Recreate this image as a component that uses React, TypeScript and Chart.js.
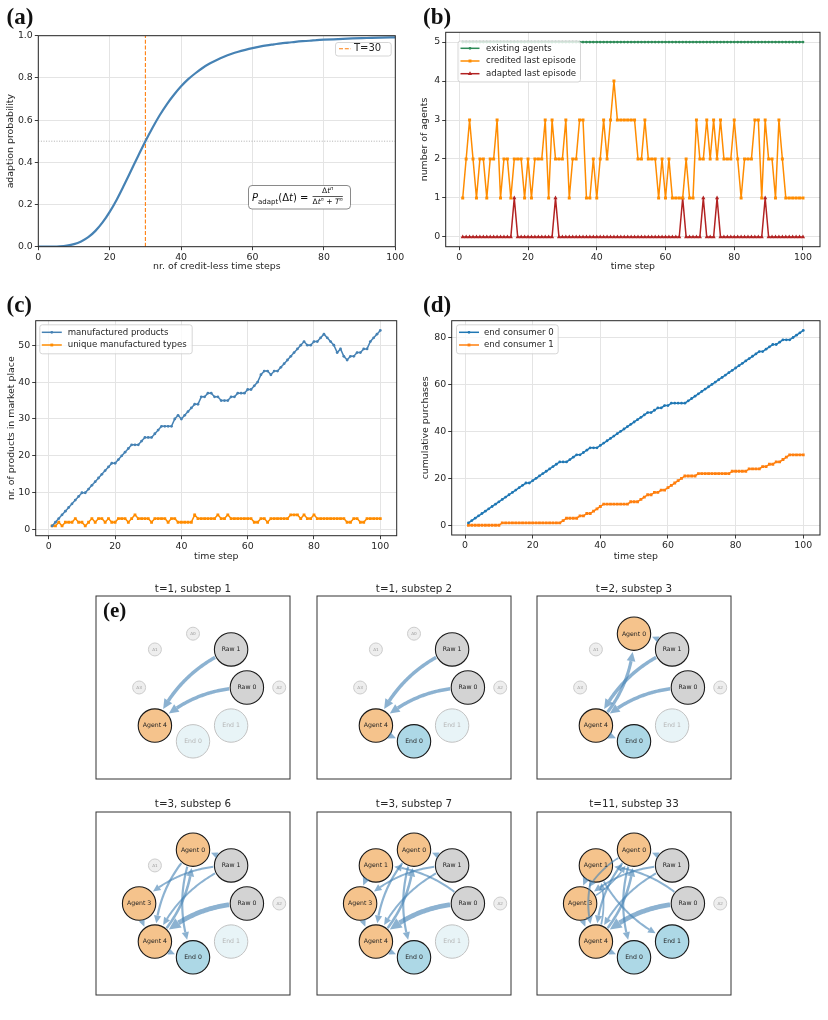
import React, { useEffect, useRef } from 'react';
import { Chart, registerables } from 'chart.js';
Chart.register(...registerables);

const SANS = "'DejaVu Sans', sans-serif";
const SERIF = "'Liberation Serif', 'DejaVu Serif', serif";

// ---------- (a) adaption probability ----------
const adaptDt = [0, 2, 4, 6, 8, 10, 12, 14, 16, 18, 20, 22, 24, 26, 28, 30, 32, 34, 36, 38, 40, 42, 44, 46, 48, 50, 52, 54, 56, 58, 60, 62, 64, 66, 68, 70, 72, 74, 76, 78, 80, 84, 88, 92, 96, 100];
const adaptProb = [0, 0, 0.0003, 0.0016, 0.005, 0.012, 0.025, 0.045, 0.075, 0.115, 0.165, 0.224, 0.291, 0.361, 0.431, 0.5, 0.564, 0.623, 0.675, 0.72, 0.76, 0.794, 0.822, 0.847, 0.868, 0.885, 0.9, 0.913, 0.924, 0.933, 0.941, 0.948, 0.954, 0.959, 0.964, 0.967, 0.971, 0.974, 0.976, 0.979, 0.981, 0.984, 0.987, 0.989, 0.991, 0.992];
const thresholdT = 30;
const halfProb = 0.5;
const aXTicks = [0, 20, 40, 60, 80, 100];
const aYTicks = [0, 0.2, 0.4, 0.6, 0.8, 1.0];

// ---------- shared time axis ----------
const steps = Array.from({ length: 100 }, (_, i) => i + 1);
const timeTicks = [0, 20, 40, 60, 80, 100];

// ---------- (b) number of agents ----------
const existingAgents = [5, 5, 5, 5, 5, 5, 5, 5, 5, 5, 5, 5, 5, 5, 5, 5, 5, 5, 5, 5, 5, 5, 5, 5, 5, 5, 5, 5, 5, 5, 5, 5, 5, 5, 5, 5, 5, 5, 5, 5, 5, 5, 5, 5, 5, 5, 5, 5, 5, 5, 5, 5, 5, 5, 5, 5, 5, 5, 5, 5, 5, 5, 5, 5, 5, 5, 5, 5, 5, 5, 5, 5, 5, 5, 5, 5, 5, 5, 5, 5, 5, 5, 5, 5, 5, 5, 5, 5, 5, 5, 5, 5, 5, 5, 5, 5, 5, 5, 5, 5];
const creditedLastEpisode = [
  1, 2, 3, 2, 1, 2, 2, 1, 2, 2,
  3, 1, 2, 2, 1, 2, 2, 2, 1, 2,
  1, 2, 2, 2, 3, 1, 3, 2, 2, 2,
  3, 1, 2, 2, 3, 3, 1, 1, 2, 1,
  2, 3, 2, 3, 4, 3, 3, 3, 3, 3,
  3, 2, 2, 3, 2, 2, 2, 1, 2, 1,
  2, 1, 1, 1, 1, 2, 1, 1, 3, 2,
  2, 3, 2, 3, 2, 3, 2, 2, 2, 3,
  2, 1, 2, 2, 2, 3, 3, 1, 3, 2,
  2, 1, 3, 2, 1, 1, 1, 1, 1, 1];
const adaptedLastEpisode = [
  0, 0, 0, 0, 0, 0, 0, 0, 0, 0,
  0, 0, 0, 0, 0, 1, 0, 0, 0, 0,
  0, 0, 0, 0, 0, 0, 0, 1, 0, 0,
  0, 0, 0, 0, 0, 0, 0, 0, 0, 0,
  0, 0, 0, 0, 0, 0, 0, 0, 0, 0,
  0, 0, 0, 0, 0, 0, 0, 0, 0, 0,
  0, 0, 0, 0, 1, 0, 0, 0, 0, 0,
  1, 0, 0, 0, 1, 0, 0, 0, 0, 0,
  0, 0, 0, 0, 0, 0, 0, 0, 1, 0,
  0, 0, 0, 0, 0, 0, 0, 0, 0, 0];
const bYTicks = [0, 1, 2, 3, 4, 5];

// ---------- (c) products in market place ----------
const manufacturedProducts = [
  1, 2, 3, 4, 5, 6, 7, 8, 9, 10,
  10, 11, 12, 13, 14, 15, 16, 17, 18, 18,
  19, 20, 21, 22, 23, 23, 23, 24, 25, 25,
  25, 26, 27, 28, 28, 28, 28, 30, 31, 30,
  31, 32, 33, 34, 34, 36, 36, 37, 37, 36,
  36, 35, 35, 35, 36, 36, 37, 37, 37, 38,
  38, 39, 40, 42, 43, 43, 42, 43, 43, 44,
  45, 46, 47, 48, 49, 50, 51, 50, 50, 51,
  51, 52, 53, 52, 51, 50, 48, 49, 47, 46,
  47, 47, 48, 48, 49, 49, 51, 52, 53, 54];
const uniqueTypes = [
  1, 1, 2, 1, 2, 2, 2, 3, 2, 2,
  1, 2, 3, 2, 3, 3, 2, 3, 2, 2,
  3, 3, 3, 2, 3, 4, 3, 3, 3, 3,
  2, 3, 3, 3, 3, 2, 3, 3, 2, 2,
  2, 2, 2, 4, 3, 3, 3, 3, 3, 3,
  4, 3, 3, 4, 3, 3, 3, 3, 3, 3,
  3, 2, 2, 3, 3, 2, 3, 3, 3, 3,
  3, 3, 4, 4, 4, 3, 4, 3, 3, 4,
  3, 3, 3, 3, 3, 3, 3, 3, 3, 2,
  2, 3, 3, 2, 2, 3, 3, 3, 3, 3];
const cYTicks = [0, 10, 20, 30, 40, 50];

// ---------- (d) cumulative purchases ----------
const endConsumer0 = [
  1, 2, 3, 4, 5, 6, 7, 8, 9, 10,
  11, 12, 13, 14, 15, 16, 17, 18, 18, 19,
  20, 21, 22, 23, 24, 25, 26, 27, 27, 27,
  28, 29, 30, 30, 31, 32, 33, 33, 33, 34,
  35, 36, 37, 38, 39, 40, 41, 42, 43, 44,
  45, 46, 47, 48, 48, 49, 50, 50, 51, 51,
  52, 52, 52, 52, 52, 53, 54, 55, 56, 57,
  58, 59, 60, 61, 62, 63, 64, 65, 66, 67,
  68, 69, 70, 71, 72, 73, 74, 74, 75, 76,
  77, 77, 78, 79, 79, 79, 80, 81, 82, 83];
const endConsumer1 = [
  0, 0, 0, 0, 0, 0, 0, 0, 0, 0,
  1, 1, 1, 1, 1, 1, 1, 1, 1, 1,
  1, 1, 1, 1, 1, 1, 1, 1, 2, 3,
  3, 3, 3, 4, 4, 5, 5, 6, 7, 8,
  9, 9, 9, 9, 9, 9, 9, 9, 10, 10,
  10, 11, 12, 13, 13, 14, 14, 15, 15, 16,
  17, 18, 19, 20, 21, 21, 21, 21, 22, 22,
  22, 22, 22, 22, 22, 22, 22, 22, 23, 23,
  23, 23, 23, 24, 24, 24, 24, 25, 25, 26,
  26, 27, 27, 28, 29, 30, 30, 30, 30, 30];
const dYTicks = [0, 20, 40, 60, 80];

// ---------- (e) network snapshots ----------
const netTitles = ['t=1, substep 1', 't=1, substep 2', 't=2, substep 3', 't=3, substep 6', 't=3, substep 7', 't=11, substep 33'];
const netNodes = ['Agent 0', 'Agent 1', 'Agent 2', 'Agent 3', 'Agent 4', 'Raw 0', 'Raw 1', 'End 0', 'End 1'];
const netActiveAgents = [[4], [4], [0, 4], [0, 3, 4], [0, 1, 3, 4], [0, 1, 3, 4]];
const netActiveEnds = [[], [0], [0], [0], [0], [0, 1]];
const netEdges: [string, string, number][][] = [
  [['Raw 1', 'Agent 4', 3.5], ['Raw 0', 'Agent 4', 3.5]],
  [['Raw 1', 'Agent 4', 3.5], ['Raw 0', 'Agent 4', 3.5], ['Agent 4', 'End 0', 2]],
  [['Raw 1', 'Agent 4', 3.5], ['Raw 0', 'Agent 4', 3.5], ['Agent 4', 'Agent 0', 3.2], ['Agent 4', 'End 0', 2], ['Raw 1', 'Agent 0', 1.5]],
  [['Raw 1', 'Agent 3', 2], ['Raw 1', 'Agent 4', 2], ['Raw 0', 'Agent 4', 4.8], ['Agent 0', 'End 0', 2.2], ['Agent 0', 'Agent 4', 2.2], ['Agent 4', 'Agent 0', 2.6], ['Agent 3', 'Agent 4', 1.5], ['Agent 4', 'End 0', 1.5], ['Raw 1', 'Agent 0', 1.5]],
  [['Raw 1', 'Agent 3', 2], ['Raw 1', 'Agent 4', 2], ['Raw 0', 'Agent 4', 4.8], ['Agent 0', 'End 0', 2.2], ['Agent 0', 'Agent 4', 2.2], ['Agent 4', 'Agent 0', 2.6], ['Agent 3', 'Agent 4', 1.5], ['Agent 4', 'End 0', 1.5], ['Raw 1', 'Agent 0', 1.5], ['Raw 0', 'Agent 1', 2], ['Agent 1', 'Agent 3', 2.2]],
  [['Raw 1', 'Agent 3', 2], ['Raw 1', 'Agent 4', 2], ['Raw 0', 'Agent 4', 4.8], ['Agent 0', 'End 0', 2.2], ['Agent 0', 'Agent 4', 2.2], ['Agent 4', 'Agent 0', 2.6], ['Agent 3', 'Agent 4', 1.5], ['Agent 4', 'End 0', 1.5], ['Raw 1', 'Agent 0', 1.5], ['Raw 0', 'Agent 1', 2], ['Agent 1', 'Agent 3', 2.2], ['Agent 1', 'End 1', 2], ['Agent 1', 'Agent 4', 2], ['Agent 4', 'Agent 1', 1.8], ['Agent 0', 'Agent 3', 1.8], ['Agent 3', 'Agent 0', 1.5]],
];

// layout (positions) for the network graph — circular layout
const nodeSlots: Record<string, [number, number]> = {
  'Agent 0': [0, 1], 'Raw 1': [0.707, 0.707], 'Raw 0': [1, 0], 'End 1': [0.707, -0.707],
  'End 0': [0, -1], 'Agent 4': [-0.707, -0.707], 'Agent 3': [-1, 0], 'Agent 1': [-0.707, 0.707], 'Agent 2': [1.6, 0],
};

// ---------- helpers ----------
type Leg = { x: number; y: number; w: number; h: number; row0: number; gap: number; sx: number; sl: number; tx: number; size: number; items: number[] };

function drawMarker(ctx: CanvasRenderingContext2D, style: string, x: number, y: number, r: number, color: string) {
  ctx.fillStyle = color;
  ctx.beginPath();
  if (style === 'rect') { const s = r * Math.SQRT1_2; ctx.rect(x - s, y - s, 2 * s, 2 * s); }
  else if (style === 'triangle') { ctx.moveTo(x, y - r); ctx.lineTo(x + r * 0.866, y + r * 0.5); ctx.lineTo(x - r * 0.866, y + r * 0.5); ctx.closePath(); }
  else ctx.arc(x, y, r, 0, Math.PI * 2);
  ctx.fill();
}

function drawLegend(chart: any, L: Leg) {
  const ctx: CanvasRenderingContext2D = chart.ctx;
  ctx.save();
  ctx.beginPath();
  (ctx as any).roundRect(L.x + 0.5, L.y + 0.5, L.w, L.h, 2.5);
  ctx.fillStyle = 'rgba(255,255,255,0.8)'; ctx.fill();
  ctx.strokeStyle = '#cccccc'; ctx.lineWidth = 0.8; ctx.stroke();
  ctx.font = `${L.size}px ${SANS}`; ctx.textBaseline = 'middle'; ctx.textAlign = 'left';
  L.items.forEach((di, i) => {
    const ds: any = chart.data.datasets[di];
    const yy = L.y + L.row0 + i * L.gap;
    ctx.strokeStyle = ds.borderColor; ctx.lineWidth = ds.borderWidth; ctx.setLineDash(ds.borderDash || []);
    ctx.beginPath(); ctx.moveTo(L.x + L.sx, yy); ctx.lineTo(L.x + L.sx + L.sl, yy); ctx.stroke();
    ctx.setLineDash([]);
    if (ds.pointRadius > 0) drawMarker(ctx, ds.pointStyle, L.x + L.sx + L.sl / 2, yy, ds.pointRadius, ds.borderColor);
    ctx.fillStyle = '#262626'; ctx.fillText(ds.label, L.x + L.tx, yy);
  });
  ctx.restore();
}

function makeMplPlugin(legend: Leg, extra?: (ctx: CanvasRenderingContext2D) => void) {
  return {
    id: 'mplFrame',
    afterDatasetsDraw(chart: any) {
      const { ctx, chartArea: a } = chart;
      ctx.save();
      ctx.strokeStyle = '#262626'; ctx.lineWidth = 1; ctx.setLineDash([]);
      ctx.strokeRect(a.left, a.top, a.right - a.left, a.bottom - a.top);
      ctx.restore();
      drawLegend(chart, legend);
      if (extra) { ctx.save(); extra(ctx); ctx.restore(); }
    },
  };
}

type PanelSpec = {
  datasets: any[]; xMin: number; xMax: number; xTicks: number[]; xTitle: string;
  yMin: number; yMax: number; yTicks: number[]; yTitle: string; yFmt: (v: number) => string;
  pad: { left: number; top: number; right: number; bottom: number }; yWidth: number; xHeight: number;
  xTitlePad: number; yTitlePad: number; legend: Leg; extra?: (ctx: CanvasRenderingContext2D) => void;
};

const TICK_SIZE = 9.4;
function panelConfig(p: PanelSpec): any {
  const tickFont = { family: SANS, size: TICK_SIZE };
  const grid = { color: '#e4e4e4', lineWidth: 1, tickLength: 3.5, tickColor: '#262626', tickWidth: 0.9, drawTicks: true };
  return {
    type: 'line',
    data: { datasets: p.datasets },
    options: {
      responsive: false, animation: false, devicePixelRatio: 1, events: [],
      layout: { padding: p.pad, autoPadding: false },
      plugins: { legend: { display: false }, tooltip: { enabled: false } },
      scales: {
        x: {
          type: 'linear', min: p.xMin, max: p.xMax,
          afterBuildTicks: (s: any) => { s.ticks = p.xTicks.map((v) => ({ value: v })); },
          afterFit: (s: any) => { s.height = p.xHeight; },
          ticks: { font: tickFont, color: '#262626', padding: 1.5, maxRotation: 0, autoSkip: false, callback: (v: any) => String(v) },
          grid, border: { display: false },
          title: { display: true, text: p.xTitle, font: tickFont, color: '#262626', padding: { top: 0, bottom: p.xTitlePad } },
        },
        y: {
          type: 'linear', min: p.yMin, max: p.yMax,
          afterBuildTicks: (s: any) => { s.ticks = p.yTicks.map((v) => ({ value: v })); },
          afterFit: (s: any) => { s.width = p.yWidth; },
          ticks: { font: tickFont, color: '#262626', padding: 2, autoSkip: false, callback: (v: any) => p.yFmt(Number(v)) },
          grid, border: { display: false },
          title: { display: true, text: p.yTitle, font: tickFont, color: '#262626', padding: { top: p.yTitlePad, bottom: 0 } },
        },
      },
    },
    plugins: [makeMplPlugin(p.legend, p.extra)],
  };
}

function series(label: string, ys: number[], color: string, pointStyle: string, pointRadius: number) {
  return {
    label, data: steps.map((t, i) => ({ x: t, y: ys[i] })), borderColor: color, backgroundColor: color,
    borderWidth: 1.5, pointStyle, pointRadius, pointBorderWidth: 0, pointBackgroundColor: color, pointHoverRadius: pointRadius,
  };
}

function drawFormula(ctx: CanvasRenderingContext2D) {
  ctx.beginPath();
  (ctx as any).roundRect(248.5, 185.5, 102, 23.5, 3.5);
  ctx.fillStyle = '#ffffff'; ctx.fill();
  ctx.strokeStyle = '#8a8a8a'; ctx.lineWidth = 1; ctx.stroke();
  ctx.fillStyle = '#111'; ctx.textBaseline = 'alphabetic'; ctx.textAlign = 'left';
  const base = 201;
  let x = 252;
  const setF = (size: number, it: boolean) => { ctx.font = `${it ? 'italic ' : ''}${size}px ${SANS}`; };
  const run = (t: string, size: number, it: boolean, dy = 0) => { setF(size, it); ctx.fillText(t, x, base + dy); x += ctx.measureText(t).width; };
  run('P', 10, true);
  run('adapt', 7, false, 2.5);
  run('(Δ', 10, false); run('t', 10, true); run(')', 10, false); run(' = ', 10, false);
  type Part = [string, number, boolean, number];
  const num: Part[] = [['Δ', 7.5, false, 0], ['t', 7.5, true, 0], ['n', 5.2, true, -3]];
  const den: Part[] = [['Δ', 7.5, false, 0], ['t', 7.5, true, 0], ['n', 5.2, true, -3], [' + ', 7.5, false, 0], ['T', 7.5, true, 0], ['n', 5.2, true, -3]];
  const width = (parts: Part[]) => parts.reduce((w, [t, s, it]) => { setF(s, it); return w + ctx.measureText(t).width; }, 0);
  const wn = width(num), wd = width(den);
  const fx = x + 1;
  const cx = fx + wd / 2;
  const drawParts = (parts: Part[], x0: number, b: number) => {
    let xx = x0;
    parts.forEach(([t, s, it, dy]) => { setF(s, it); ctx.fillText(t, xx, b + dy); xx += ctx.measureText(t).width; });
  };
  drawParts(num, cx - wn / 2, 193.3);
  ctx.fillRect(fx, 196.2, wd, 0.7);
  drawParts(den, fx, 204.3);
}

// ---------- chart configs ----------
function configA() {
  return panelConfig({
    datasets: [
      { label: 'adaption', data: adaptDt.map((x, i) => ({ x, y: adaptProb[i] })), borderColor: '#4682b4', borderWidth: 2.2, pointRadius: 0, cubicInterpolationMode: 'monotone' },
      { label: 'T=30', data: [{ x: thresholdT, y: 0 }, { x: thresholdT, y: 1 }], borderColor: '#ff7f0e', borderWidth: 1.1, borderDash: [4, 1.8], pointRadius: 0 },
      { label: 'half', data: [{ x: 0, y: halfProb }, { x: 100, y: halfProb }], borderColor: '#9a9a9a', borderWidth: 0.8, borderDash: [1, 1.6], pointRadius: 0 },
    ],
    xMin: 0, xMax: 100, xTicks: aXTicks, xTitle: 'nr. of credit-less time steps',
    yMin: 0, yMax: 1, yTicks: aYTicks, yTitle: 'adaption probability', yFmt: (v) => v.toFixed(1),
    pad: { left: 0, top: 35.7, right: 14.7, bottom: 0 }, yWidth: 38.3, xHeight: 38.3, xTitlePad: 12.5, yTitlePad: 5,
    legend: { x: 335, y: 42, w: 55.7, h: 13.5, row0: 6.8, gap: 12, sx: 4, sl: 12, tx: 19, size: 10, items: [1] },
    extra: drawFormula,
  });
}

function configB() {
  return panelConfig({
    datasets: [
      series('existing agents', existingAgents, '#2e8b57', 'circle', 1.4),
      series('credited last episode', creditedLastEpisode, '#ff8c00', 'rect', 2.1),
      series('adapted last episode', adaptedLastEpisode, '#b22222', 'triangle', 2.4),
    ],
    xMin: -3.95, xMax: 104.95, xTicks: timeTicks, xTitle: 'time step',
    yMin: -0.25, yMax: 5.25, yTicks: bYTicks, yTitle: 'number of agents', yFmt: (v) => String(v),
    pad: { left: 0, top: 32.3, right: 8, bottom: 0 }, yWidth: 35.7, xHeight: 38.3, xTitlePad: 12.5, yTitlePad: 9.4,
    legend: { x: 47.5, y: 40.5, w: 122.5, h: 41, row0: 7.8, gap: 12.7, sx: 3, sl: 19, tx: 28.5, size: 8.6, items: [0, 1, 2] },
  });
}

function configC() {
  return panelConfig({
    datasets: [
      series('manufactured products', manufacturedProducts, '#4682b4', 'circle', 1.4),
      series('unique manufactured types', uniqueTypes, '#ff8c00', 'rect', 2),
    ],
    xMin: -3.95, xMax: 104.95, xTicks: timeTicks, xTitle: 'time step',
    yMin: -1.65, yMax: 56.65, yTicks: cYTicks, yTitle: 'nr. of products in market place', yFmt: (v) => String(v),
    pad: { left: 0, top: 35.7, right: 13.3, bottom: 0 }, yWidth: 35.7, xHeight: 39.3, xTitlePad: 12.5, yTitlePad: 6,
    legend: { x: 39.3, y: 39.3, w: 152.4, h: 29, row0: 8, gap: 12.7, sx: 2.5, sl: 20, tx: 28.4, size: 8.6, items: [0, 1] },
  });
}

function configD() {
  return panelConfig({
    datasets: [
      series('end consumer 0', endConsumer0, '#1f77b4', 'circle', 1.4),
      series('end consumer 1', endConsumer1, '#ff7f0e', 'rect', 2),
    ],
    xMin: -3.95, xMax: 104.95, xTicks: timeTicks, xTitle: 'time step',
    yMin: -4.15, yMax: 87.15, yTicks: dYTicks, yTitle: 'cumulative purchases', yFmt: (v) => String(v),
    pad: { left: 0, top: 35.7, right: 8, bottom: 0 }, yWidth: 41.7, xHeight: 40, xTitlePad: 12.5, yTitlePad: 10.4,
    legend: { x: 46, y: 39.3, w: 101.7, h: 29, row0: 8, gap: 12.7, sx: 3, sl: 20, tx: 28, size: 8.6, items: [0, 1] },
  });
}

const EDGE_COLOR = 'rgba(70,130,180,0.62)';
const BIG_R = 16.7;
const SMALL_R = 6.5;

function drawArrow(ctx: CanvasRenderingContext2D, p: { x: number; y: number }, q: { x: number; y: number }, rs: number, rt: number, w: number, rad: number) {
  const dx = q.x - p.x, dy = q.y - p.y;
  const c = { x: (p.x + q.x) / 2 - rad * dy, y: (p.y + q.y) / 2 + rad * dx };
  const B = (t: number) => { const u = 1 - t; return { x: u * u * p.x + 2 * u * t * c.x + t * t * q.x, y: u * u * p.y + 2 * u * t * c.y + t * t * q.y }; };
  const N = 400;
  let t0 = 0, t1 = 1;
  for (let i = 0; i <= N; i++) { const t = i / N, b = B(t); if (Math.hypot(b.x - p.x, b.y - p.y) >= rs) { t0 = t; break; } }
  for (let i = N; i >= 0; i--) { const t = i / N, b = B(t); if (Math.hypot(b.x - q.x, b.y - q.y) >= rt) { t1 = t; break; } }
  if (t1 <= t0) return;
  const tip = B(t1);
  const hl = 4.5 + 1.5 * w, hw = 2 + 0.75 * w;
  let tb = t0;
  for (let i = N; i >= 0; i--) { const t = t0 + (t1 - t0) * i / N, b = B(t); if (Math.hypot(b.x - tip.x, b.y - tip.y) >= hl) { tb = t; break; } }
  let base = B(tb);
  let len = Math.hypot(tip.x - base.x, tip.y - base.y);
  if (len < 0.5) { const d = { x: tip.x - B(t0).x, y: tip.y - B(t0).y }; len = Math.hypot(d.x, d.y) || 1; base = { x: tip.x - d.x / len * hl, y: tip.y - d.y / len * hl }; len = hl; }
  const ux = (tip.x - base.x) / len, uy = (tip.y - base.y) / len;
  const bx = tip.x - ux * hl, by = tip.y - uy * hl;
  ctx.strokeStyle = EDGE_COLOR; ctx.fillStyle = EDGE_COLOR; ctx.lineWidth = w; ctx.lineCap = 'butt';
  if (tb > t0) {
    ctx.beginPath();
    for (let i = 0; i <= 40; i++) { const t = t0 + (tb - t0) * i / 40, b = B(t); if (i === 0) ctx.moveTo(b.x, b.y); else ctx.lineTo(b.x, b.y); }
    ctx.stroke();
  }
  ctx.beginPath();
  ctx.moveTo(tip.x, tip.y);
  ctx.lineTo(bx - uy * hw, by + ux * hw);
  ctx.lineTo(bx + uy * hw, by - ux * hw);
  ctx.closePath(); ctx.fill();
}

function netConfig(k: number): any {
  const agents = netActiveAgents[k], ends = netActiveEnds[k];
  const nodes = netNodes.map((name) => {
    const [kind, idx] = name.split(' ');
    let state = 'on';
    if (kind === 'Agent' && !agents.includes(Number(idx))) state = 'small';
    if (kind === 'End' && !ends.includes(Number(idx))) state = 'faded';
    const label = state === 'small' ? 'A' + idx : name;
    let fill = '#d3d3d3', border = '#1a1a1a';
    if (kind === 'Agent') fill = '#f5c38c';
    if (kind === 'End') fill = '#add8e6';
    if (state === 'faded') { fill = '#e8f4f7'; border = '#c2c2c2'; }
    if (state === 'small') { fill = '#eeeeee'; border = '#cccccc'; }
    return { name, kind, state, label, fill, border, r: state === 'small' ? SMALL_R : BIG_R };
  });
  const plugin = {
    id: 'netDecor',
    afterDatasetsDraw(chart: any) {
      const { ctx, chartArea: a, scales } = chart;
      const pos = (n: string) => ({ x: scales.x.getPixelForValue(nodeSlots[n][0]), y: scales.y.getPixelForValue(nodeSlots[n][1]) });
      const rOf = (n: string) => nodes.find((d) => d.name === n)!.r;
      ctx.save();
      ctx.strokeStyle = '#333'; ctx.lineWidth = 1;
      ctx.strokeRect(a.left, a.top, a.right - a.left, a.bottom - a.top);
      ctx.fillStyle = '#262626'; ctx.font = `10.3px ${SANS}`; ctx.textAlign = 'center'; ctx.textBaseline = 'middle';
      ctx.fillText(netTitles[k], (a.left + a.right) / 2, a.top - (k < 3 ? 6.5 : 7.5));
      netEdges[k].forEach(([f, t, w]) => drawArrow(ctx, pos(f), pos(t), rOf(f) + 1, rOf(t) + 1.5, w, 0.2));
      nodes.forEach((n) => {
        const p = pos(n.name);
        ctx.fillStyle = n.state === 'on' ? '#222' : (n.state === 'faded' ? '#b5b5b5' : '#9a9a9a');
        ctx.font = `${n.state === 'small' ? 4.2 : 6.2}px ${SANS}`;
        ctx.textAlign = 'center'; ctx.textBaseline = 'middle';
        ctx.fillText(n.label, p.x, p.y + 0.3);
      });
      ctx.restore();
    },
  };
  return {
    type: 'scatter',
    data: {
      datasets: [{
        data: nodes.map((n) => ({ x: nodeSlots[n.name][0], y: nodeSlots[n.name][1] })),
        pointRadius: nodes.map((n) => n.r), pointHoverRadius: nodes.map((n) => n.r),
        pointBackgroundColor: nodes.map((n) => n.fill), pointBorderColor: nodes.map((n) => n.border),
        pointBorderWidth: nodes.map((n) => (n.state === 'on' ? 1.1 : 1)),
        clip: false,
      }],
    },
    options: {
      responsive: false, animation: false, devicePixelRatio: 1, events: [],
      layout: { padding: { left: 6, right: 6, top: 20, bottom: 6 }, autoPadding: false },
      plugins: { legend: { display: false }, tooltip: { enabled: false } },
      scales: { x: { display: false, min: -1.8, max: 1.8 }, y: { display: false, min: -1.7, max: 1.7 } },
    },
    plugins: [plugin],
  };
}

// ---------- components ----------
function ChartBox({ left, top, width, height, make }: { left: number; top: number; width: number; height: number; make: () => any }) {
  const ref = useRef<HTMLCanvasElement>(null);
  useEffect(() => {
    const chart = new Chart(ref.current as HTMLCanvasElement, make());
    return () => chart.destroy();
  }, []);
  return (
    <div style={{ position: 'absolute', left, top, width, height }}>
      <canvas ref={ref} width={width} height={height} style={{ width, height, display: 'block' }} />
    </div>
  );
}

function PanelLabel({ text, left, top, size }: { text: string; left: number; top: number; size: number }) {
  return (
    <div style={{ position: 'absolute', left, top, fontFamily: SERIF, fontWeight: 'bold', fontSize: size, lineHeight: 1, color: '#111', whiteSpace: 'nowrap' }}>{text}</div>
  );
}

const boxLefts = [96, 316.5, 536.7];
const boxTops = [596, 811.7];
const BOX_W = 194, BOX_H = 183.3;

export default function App() {
  return (
    <div style={{ position: 'absolute', left: 0, top: 0, width: 828, height: 1020, background: '#fff', overflow: 'hidden' }}>
      <ChartBox left={0} top={0} width={410} height={285} make={configA} />
      <ChartBox left={410} top={0} width={418} height={285} make={configB} />
      <ChartBox left={0} top={285} width={410} height={290} make={configC} />
      <ChartBox left={410} top={285} width={418} height={290} make={configD} />
      {netTitles.map((_, k) => (
        <ChartBox key={k} left={boxLefts[k % 3] - 6} top={boxTops[Math.floor(k / 3)] - 20} width={BOX_W + 12} height={BOX_H + 26} make={() => netConfig(k)} />
      ))}
      <PanelLabel text="(a)" left={6.5} top={5} size={23} />
      <PanelLabel text="(b)" left={423} top={5} size={23} />
      <PanelLabel text="(c)" left={6.5} top={293.3} size={23} />
      <PanelLabel text="(d)" left={423} top={293.3} size={23} />
      <PanelLabel text="(e)" left={103} top={600} size={21} />
    </div>
  );
}
